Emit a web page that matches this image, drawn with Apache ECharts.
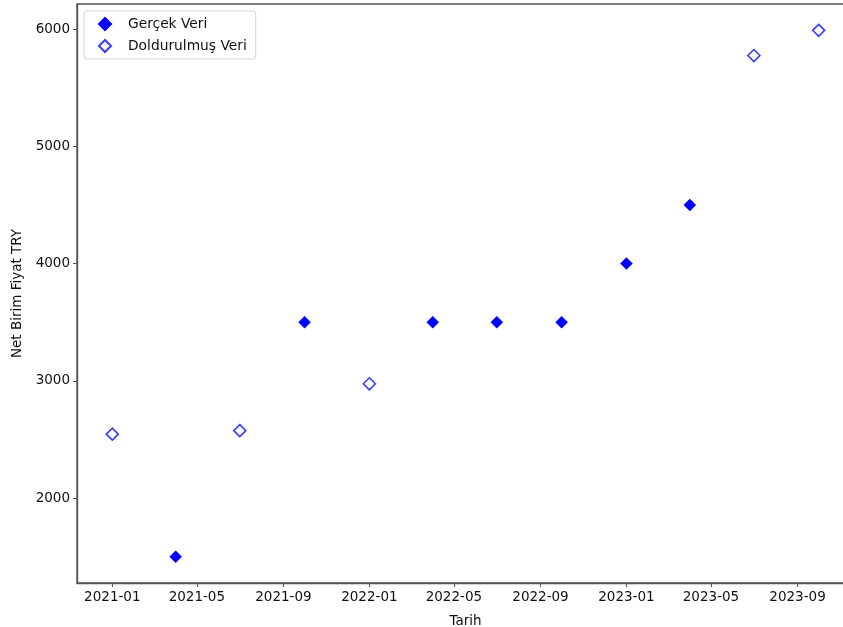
<!DOCTYPE html>
<html>
<head>
<meta charset="utf-8">
<script src="https://cdn.jsdelivr.net/npm/echarts@6/dist/echarts.min.js"></script>
<style>
  html, body { margin: 0; padding: 0; background: #fff; overflow: hidden; }
  #chart { width: 843px; height: 627px; }
</style>
</head>
<body>
<div id="chart"></div>
<script>
// Observed prices (filled markers)
const realDates = ['2021-04-01', '2021-10-01', '2022-04-01', '2022-07-01', '2022-10-01', '2023-01-01', '2023-04-01'];
const realValues = [1500, 3500, 3500, 3500, 3500, 4000, 4500];

// Imputed prices (hollow markers)
const filledDates = ['2021-01-01', '2021-07-01', '2022-01-01', '2023-07-01', '2023-10-01'];
const filledValues = [2545, 2575, 2975, 5775, 5990];

// Axis ticks
const xTickDates = ['2021-01-01', '2021-05-01', '2021-09-01', '2022-01-01', '2022-05-01', '2022-09-01', '2023-01-01', '2023-05-01', '2023-09-01'];
const yTicks = [2000, 3000, 4000, 5000, 6000];

const ts = d => Date.parse(d + 'T00:00:00Z');
const pad2 = n => (n < 10 ? '0' : '') + n;
const fmtMonth = v => { const d = new Date(v); return d.getUTCFullYear() + '-' + pad2(d.getUTCMonth() + 1); };

const realData = realDates.map((d, i) => [ts(d), realValues[i]]);
const filledData = filledDates.map((d, i) => [ts(d), filledValues[i]]);

// 5% padding around the data extent on both axes
const allX = realData.concat(filledData).map(p => p[0]);
const allY = realData.concat(filledData).map(p => p[1]);
const xLo = Math.min(...allX), xHi = Math.max(...allX);
const yLo = Math.min(...allY), yHi = Math.max(...allY);
const xPad = (xHi - xLo) * 0.05, yPad = (yHi - yLo) * 0.05;

const font = 'DejaVu Sans';
const axisColor = '#555';
const textColor = '#111';

const chart = echarts.init(document.getElementById('chart'), null, { renderer: 'canvas' });
chart.setOption({
  animation: false,
  backgroundColor: '#fff',
  grid: {
    left: 77, right: -11, top: 4, bottom: 44,
    containLabel: false, outerBoundsMode: 'none',
    show: true, borderColor: axisColor, borderWidth: 1.4, backgroundColor: 'transparent'
  },
  legend: {
    orient: 'vertical',
    left: 84, top: 11,
    padding: [6, 9, 6, 14],
    itemGap: 8,
    itemWidth: 12, itemHeight: 12,
    borderColor: '#d4d4d4', borderWidth: 1, borderRadius: 3,
    backgroundColor: 'rgba(255,255,255,0.8)',
    textStyle: { fontFamily: font, fontSize: 13.8, color: textColor, padding: [0, 0, 0, 12] },
    data: ['Gerçek Veri', 'Doldurulmuş Veri']
  },
  xAxis: {
    type: 'value',
    min: xLo - xPad, max: xHi + xPad,
    name: 'Tarih', nameLocation: 'middle', nameGap: 31,
    nameTextStyle: { fontFamily: font, fontSize: 13.5, color: textColor },
    splitLine: { show: false },
    axisLine: { show: true, lineStyle: { color: axisColor, width: 1.4 } },
    axisTick: { show: true, length: 4, lineStyle: { color: axisColor }, customValues: xTickDates.map(ts) },
    axisLabel: {
      fontFamily: font, fontSize: 13.5, color: textColor, margin: 7,
      customValues: xTickDates.map(ts), formatter: v => fmtMonth(v)
    }
  },
  yAxis: {
    type: 'value',
    min: yLo - yPad, max: yHi + yPad,
    name: 'Net Birim Fiyat TRY', nameLocation: 'middle', nameGap: 53, nameRotate: 90,
    nameTextStyle: { fontFamily: font, fontSize: 13.5, color: textColor },
    splitLine: { show: false },
    axisLine: { show: true, lineStyle: { color: axisColor, width: 1.4 } },
    axisTick: { show: true, length: 4, lineStyle: { color: axisColor }, customValues: yTicks },
    axisLabel: {
      fontFamily: font, fontSize: 13.5, color: textColor, margin: 7,
      customValues: yTicks, formatter: v => String(v)
    }
  },
  series: [
    {
      name: 'Gerçek Veri', type: 'scatter',
      symbol: 'diamond', symbolSize: 12,
      itemStyle: { color: '#0000ff', borderColor: '#0000ff', borderWidth: 0.5, opacity: 1 },
      data: realData
    },
    {
      name: 'Doldurulmuş Veri', type: 'scatter',
      symbol: 'diamond', symbolSize: 12,
      itemStyle: { color: '#ffffff', borderColor: '#3b3bff', borderWidth: 1.6, opacity: 1 },
      data: filledData
    }
  ]
});
</script>
</body>
</html>
